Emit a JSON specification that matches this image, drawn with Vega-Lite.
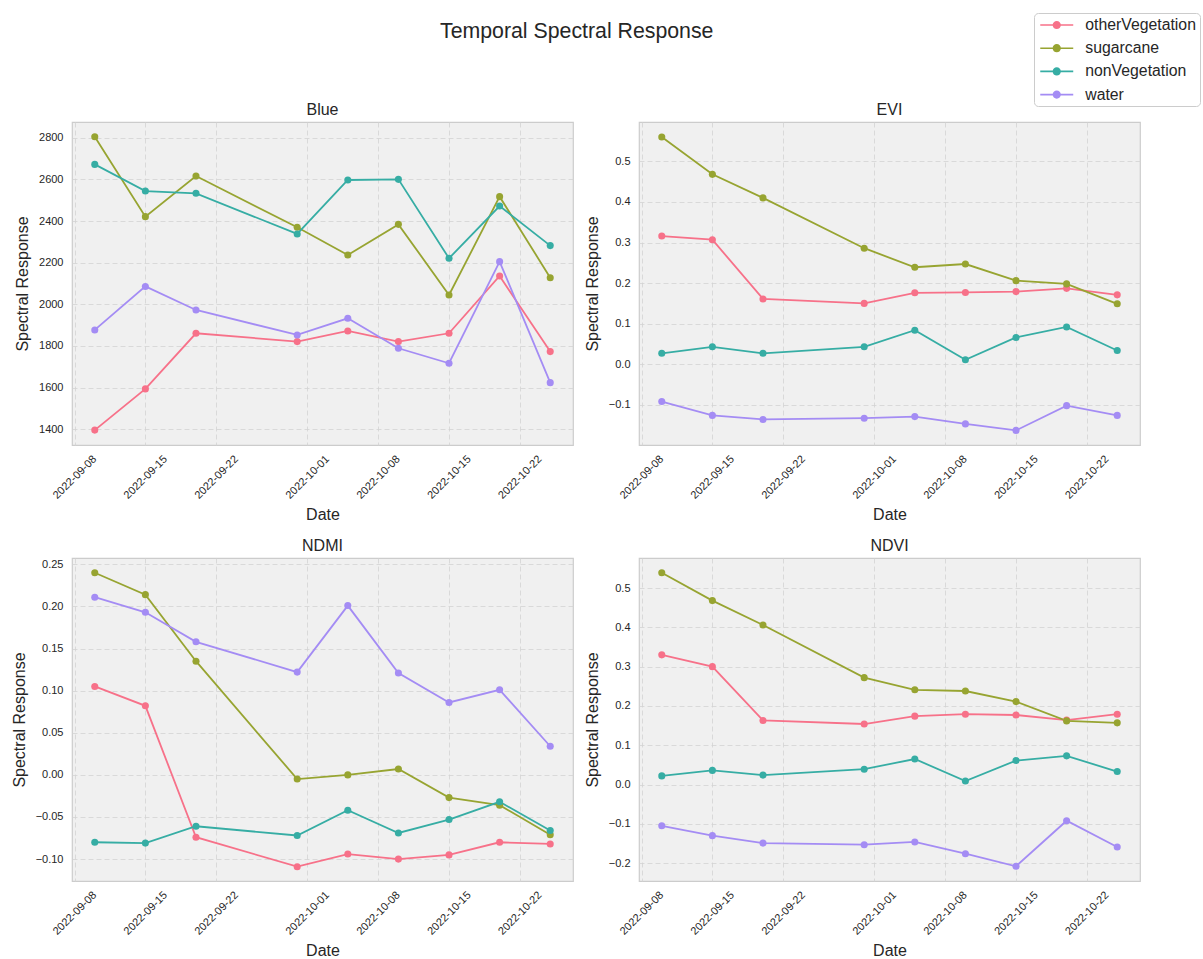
{
  "$schema": "https://vega.github.io/schema/vega-lite/v6.json",
  "background": "white",
  "padding": {"left": 10, "top": 12, "right": 0, "bottom": 0},
  "title": {"text": "Temporal Spectral Response", "anchor": "start", "frame": "group", "dx": 368, "fontSize": 21.3, "font": "Liberation Sans", "fontWeight": "normal", "color": "#262626", "baseline": "alphabetic", "offset": -47},
  "data": {"values": [
    {"band":"Blue","class":"otherVegetation","date":"2022-09-10","value":1396},
    {"band":"Blue","class":"otherVegetation","date":"2022-09-15","value":1594},
    {"band":"Blue","class":"otherVegetation","date":"2022-09-20","value":1861},
    {"band":"Blue","class":"otherVegetation","date":"2022-09-30","value":1821},
    {"band":"Blue","class":"otherVegetation","date":"2022-10-05","value":1872},
    {"band":"Blue","class":"otherVegetation","date":"2022-10-10","value":1821},
    {"band":"Blue","class":"otherVegetation","date":"2022-10-15","value":1861},
    {"band":"Blue","class":"otherVegetation","date":"2022-10-20","value":2136},
    {"band":"Blue","class":"otherVegetation","date":"2022-10-25","value":1773},
    {"band":"Blue","class":"sugarcane","date":"2022-09-10","value":2805},
    {"band":"Blue","class":"sugarcane","date":"2022-09-15","value":2421},
    {"band":"Blue","class":"sugarcane","date":"2022-09-20","value":2616},
    {"band":"Blue","class":"sugarcane","date":"2022-09-30","value":2370},
    {"band":"Blue","class":"sugarcane","date":"2022-10-05","value":2237},
    {"band":"Blue","class":"sugarcane","date":"2022-10-10","value":2384},
    {"band":"Blue","class":"sugarcane","date":"2022-10-15","value":2045},
    {"band":"Blue","class":"sugarcane","date":"2022-10-20","value":2517},
    {"band":"Blue","class":"sugarcane","date":"2022-10-25","value":2128},
    {"band":"Blue","class":"nonVegetation","date":"2022-09-10","value":2672},
    {"band":"Blue","class":"nonVegetation","date":"2022-09-15","value":2544},
    {"band":"Blue","class":"nonVegetation","date":"2022-09-20","value":2533},
    {"band":"Blue","class":"nonVegetation","date":"2022-09-30","value":2338},
    {"band":"Blue","class":"nonVegetation","date":"2022-10-05","value":2597},
    {"band":"Blue","class":"nonVegetation","date":"2022-10-10","value":2600},
    {"band":"Blue","class":"nonVegetation","date":"2022-10-15","value":2221},
    {"band":"Blue","class":"nonVegetation","date":"2022-10-20","value":2472},
    {"band":"Blue","class":"nonVegetation","date":"2022-10-25","value":2282},
    {"band":"Blue","class":"water","date":"2022-09-10","value":1877},
    {"band":"Blue","class":"water","date":"2022-09-15","value":2086},
    {"band":"Blue","class":"water","date":"2022-09-20","value":1973},
    {"band":"Blue","class":"water","date":"2022-09-30","value":1853},
    {"band":"Blue","class":"water","date":"2022-10-05","value":1933},
    {"band":"Blue","class":"water","date":"2022-10-10","value":1789},
    {"band":"Blue","class":"water","date":"2022-10-15","value":1717},
    {"band":"Blue","class":"water","date":"2022-10-20","value":2205},
    {"band":"Blue","class":"water","date":"2022-10-25","value":1624},
    {"band":"EVI","class":"otherVegetation","date":"2022-09-10","value":0.316},
    {"band":"EVI","class":"otherVegetation","date":"2022-09-15","value":0.307},
    {"band":"EVI","class":"otherVegetation","date":"2022-09-20","value":0.161},
    {"band":"EVI","class":"otherVegetation","date":"2022-09-30","value":0.150},
    {"band":"EVI","class":"otherVegetation","date":"2022-10-05","value":0.176},
    {"band":"EVI","class":"otherVegetation","date":"2022-10-10","value":0.177},
    {"band":"EVI","class":"otherVegetation","date":"2022-10-15","value":0.179},
    {"band":"EVI","class":"otherVegetation","date":"2022-10-20","value":0.187},
    {"band":"EVI","class":"otherVegetation","date":"2022-10-25","value":0.171},
    {"band":"EVI","class":"sugarcane","date":"2022-09-10","value":0.560},
    {"band":"EVI","class":"sugarcane","date":"2022-09-15","value":0.468},
    {"band":"EVI","class":"sugarcane","date":"2022-09-20","value":0.410},
    {"band":"EVI","class":"sugarcane","date":"2022-09-30","value":0.286},
    {"band":"EVI","class":"sugarcane","date":"2022-10-05","value":0.239},
    {"band":"EVI","class":"sugarcane","date":"2022-10-10","value":0.247},
    {"band":"EVI","class":"sugarcane","date":"2022-10-15","value":0.206},
    {"band":"EVI","class":"sugarcane","date":"2022-10-20","value":0.198},
    {"band":"EVI","class":"sugarcane","date":"2022-10-25","value":0.149},
    {"band":"EVI","class":"nonVegetation","date":"2022-09-10","value":0.027},
    {"band":"EVI","class":"nonVegetation","date":"2022-09-15","value":0.043},
    {"band":"EVI","class":"nonVegetation","date":"2022-09-20","value":0.027},
    {"band":"EVI","class":"nonVegetation","date":"2022-09-30","value":0.043},
    {"band":"EVI","class":"nonVegetation","date":"2022-10-05","value":0.084},
    {"band":"EVI","class":"nonVegetation","date":"2022-10-10","value":0.011},
    {"band":"EVI","class":"nonVegetation","date":"2022-10-15","value":0.066},
    {"band":"EVI","class":"nonVegetation","date":"2022-10-20","value":0.092},
    {"band":"EVI","class":"nonVegetation","date":"2022-10-25","value":0.034},
    {"band":"EVI","class":"water","date":"2022-09-10","value":-0.092},
    {"band":"EVI","class":"water","date":"2022-09-15","value":-0.126},
    {"band":"EVI","class":"water","date":"2022-09-20","value":-0.136},
    {"band":"EVI","class":"water","date":"2022-09-30","value":-0.133},
    {"band":"EVI","class":"water","date":"2022-10-05","value":-0.129},
    {"band":"EVI","class":"water","date":"2022-10-10","value":-0.147},
    {"band":"EVI","class":"water","date":"2022-10-15","value":-0.163},
    {"band":"EVI","class":"water","date":"2022-10-20","value":-0.102},
    {"band":"EVI","class":"water","date":"2022-10-25","value":-0.126},
    {"band":"NDMI","class":"otherVegetation","date":"2022-09-10","value":0.105},
    {"band":"NDMI","class":"otherVegetation","date":"2022-09-15","value":0.082},
    {"band":"NDMI","class":"otherVegetation","date":"2022-09-20","value":-0.074},
    {"band":"NDMI","class":"otherVegetation","date":"2022-09-30","value":-0.109},
    {"band":"NDMI","class":"otherVegetation","date":"2022-10-05","value":-0.094},
    {"band":"NDMI","class":"otherVegetation","date":"2022-10-10","value":-0.100},
    {"band":"NDMI","class":"otherVegetation","date":"2022-10-15","value":-0.095},
    {"band":"NDMI","class":"otherVegetation","date":"2022-10-20","value":-0.080},
    {"band":"NDMI","class":"otherVegetation","date":"2022-10-25","value":-0.082},
    {"band":"NDMI","class":"sugarcane","date":"2022-09-10","value":0.240},
    {"band":"NDMI","class":"sugarcane","date":"2022-09-15","value":0.214},
    {"band":"NDMI","class":"sugarcane","date":"2022-09-20","value":0.135},
    {"band":"NDMI","class":"sugarcane","date":"2022-09-30","value":-0.005},
    {"band":"NDMI","class":"sugarcane","date":"2022-10-05","value":0.000},
    {"band":"NDMI","class":"sugarcane","date":"2022-10-10","value":0.007},
    {"band":"NDMI","class":"sugarcane","date":"2022-10-15","value":-0.027},
    {"band":"NDMI","class":"sugarcane","date":"2022-10-20","value":-0.036},
    {"band":"NDMI","class":"sugarcane","date":"2022-10-25","value":-0.071},
    {"band":"NDMI","class":"nonVegetation","date":"2022-09-10","value":-0.080},
    {"band":"NDMI","class":"nonVegetation","date":"2022-09-15","value":-0.081},
    {"band":"NDMI","class":"nonVegetation","date":"2022-09-20","value":-0.061},
    {"band":"NDMI","class":"nonVegetation","date":"2022-09-30","value":-0.072},
    {"band":"NDMI","class":"nonVegetation","date":"2022-10-05","value":-0.042},
    {"band":"NDMI","class":"nonVegetation","date":"2022-10-10","value":-0.069},
    {"band":"NDMI","class":"nonVegetation","date":"2022-10-15","value":-0.053},
    {"band":"NDMI","class":"nonVegetation","date":"2022-10-20","value":-0.032},
    {"band":"NDMI","class":"nonVegetation","date":"2022-10-25","value":-0.066},
    {"band":"NDMI","class":"water","date":"2022-09-10","value":0.211},
    {"band":"NDMI","class":"water","date":"2022-09-15","value":0.193},
    {"band":"NDMI","class":"water","date":"2022-09-20","value":0.158},
    {"band":"NDMI","class":"water","date":"2022-09-30","value":0.122},
    {"band":"NDMI","class":"water","date":"2022-10-05","value":0.201},
    {"band":"NDMI","class":"water","date":"2022-10-10","value":0.121},
    {"band":"NDMI","class":"water","date":"2022-10-15","value":0.086},
    {"band":"NDMI","class":"water","date":"2022-10-20","value":0.101},
    {"band":"NDMI","class":"water","date":"2022-10-25","value":0.034},
    {"band":"NDVI","class":"otherVegetation","date":"2022-09-10","value":0.330},
    {"band":"NDVI","class":"otherVegetation","date":"2022-09-15","value":0.300},
    {"band":"NDVI","class":"otherVegetation","date":"2022-09-20","value":0.163},
    {"band":"NDVI","class":"otherVegetation","date":"2022-09-30","value":0.154},
    {"band":"NDVI","class":"otherVegetation","date":"2022-10-05","value":0.174},
    {"band":"NDVI","class":"otherVegetation","date":"2022-10-10","value":0.179},
    {"band":"NDVI","class":"otherVegetation","date":"2022-10-15","value":0.177},
    {"band":"NDVI","class":"otherVegetation","date":"2022-10-20","value":0.164},
    {"band":"NDVI","class":"otherVegetation","date":"2022-10-25","value":0.179},
    {"band":"NDVI","class":"sugarcane","date":"2022-09-10","value":0.539},
    {"band":"NDVI","class":"sugarcane","date":"2022-09-15","value":0.468},
    {"band":"NDVI","class":"sugarcane","date":"2022-09-20","value":0.406},
    {"band":"NDVI","class":"sugarcane","date":"2022-09-30","value":0.272},
    {"band":"NDVI","class":"sugarcane","date":"2022-10-05","value":0.241},
    {"band":"NDVI","class":"sugarcane","date":"2022-10-10","value":0.238},
    {"band":"NDVI","class":"sugarcane","date":"2022-10-15","value":0.211},
    {"band":"NDVI","class":"sugarcane","date":"2022-10-20","value":0.162},
    {"band":"NDVI","class":"sugarcane","date":"2022-10-25","value":0.157},
    {"band":"NDVI","class":"nonVegetation","date":"2022-09-10","value":0.022},
    {"band":"NDVI","class":"nonVegetation","date":"2022-09-15","value":0.036},
    {"band":"NDVI","class":"nonVegetation","date":"2022-09-20","value":0.024},
    {"band":"NDVI","class":"nonVegetation","date":"2022-09-30","value":0.039},
    {"band":"NDVI","class":"nonVegetation","date":"2022-10-05","value":0.065},
    {"band":"NDVI","class":"nonVegetation","date":"2022-10-10","value":0.009},
    {"band":"NDVI","class":"nonVegetation","date":"2022-10-15","value":0.061},
    {"band":"NDVI","class":"nonVegetation","date":"2022-10-20","value":0.073},
    {"band":"NDVI","class":"nonVegetation","date":"2022-10-25","value":0.033},
    {"band":"NDVI","class":"water","date":"2022-09-10","value":-0.105},
    {"band":"NDVI","class":"water","date":"2022-09-15","value":-0.130},
    {"band":"NDVI","class":"water","date":"2022-09-20","value":-0.149},
    {"band":"NDVI","class":"water","date":"2022-09-30","value":-0.153},
    {"band":"NDVI","class":"water","date":"2022-10-05","value":-0.146},
    {"band":"NDVI","class":"water","date":"2022-10-10","value":-0.176},
    {"band":"NDVI","class":"water","date":"2022-10-15","value":-0.208},
    {"band":"NDVI","class":"water","date":"2022-10-20","value":-0.092},
    {"band":"NDVI","class":"water","date":"2022-10-25","value":-0.159}
  ]},
  "columns": 2,
  "spacing": {"column": 66, "row": 113},
  "bounds": "flush",
  "resolve": {"scale": {"x": "independent", "y": "independent", "color": "shared"}},
  "concat": [
    {
      "title": {"text": "Blue", "fontSize": 16, "fontWeight": "normal", "color": "#262626", "anchor": "middle", "offset": 4, "font": "Liberation Sans"},
      "width": 501, "height": 323,
      "transform": [{"filter": "datum.band === 'Blue'"}],
      "mark": {"type": "line", "strokeWidth": 1.8, "point": {"filled": true, "size": 50, "opacity": 1}},
      "encoding": {
        "x": {"field": "date", "type": "temporal", "scale": {"type": "utc", "domain": [{"year": 2022, "month": 9, "date": 7, "hours": 18, "utc": true}, {"year": 2022, "month": 10, "date": 27, "hours": 6, "utc": true}]}, "axis": {"title": "Date", "format": "%Y-%m-%d", "values": [{"year": 2022, "month": 9, "date": 8, "utc": true}, {"year": 2022, "month": 9, "date": 15, "utc": true}, {"year": 2022, "month": 9, "date": 22, "utc": true}, {"year": 2022, "month": 10, "date": 1, "utc": true}, {"year": 2022, "month": 10, "date": 8, "utc": true}, {"year": 2022, "month": 10, "date": 15, "utc": true}, {"year": 2022, "month": 10, "date": 22, "utc": true}]}},
        "y": {"field": "value", "type": "quantitative", "scale": {"domain": [1324.5, 2875.5], "nice": false, "zero": false}, "axis": {"title": "Spectral Response", "values": [1400, 1600, 1800, 2000, 2200, 2400, 2600, 2800], "format": "d"}},
        "color": {"field": "class", "type": "nominal", "scale": {"domain": ["otherVegetation", "sugarcane", "nonVegetation", "water"], "range": ["#f77189", "#97a431", "#36ada4", "#a48cf4"]}, "legend": {"title": null}}
      }
    },
    {
      "title": {"text": "EVI", "fontSize": 16, "fontWeight": "normal", "color": "#262626", "anchor": "middle", "offset": 4, "font": "Liberation Sans"},
      "width": 501, "height": 323,
      "transform": [{"filter": "datum.band === 'EVI'"}],
      "mark": {"type": "line", "strokeWidth": 1.8, "point": {"filled": true, "size": 50, "opacity": 1}},
      "encoding": {
        "x": {"field": "date", "type": "temporal", "scale": {"type": "utc", "domain": [{"year": 2022, "month": 9, "date": 7, "hours": 18, "utc": true}, {"year": 2022, "month": 10, "date": 27, "hours": 6, "utc": true}]}, "axis": {"title": "Date", "format": "%Y-%m-%d", "values": [{"year": 2022, "month": 9, "date": 8, "utc": true}, {"year": 2022, "month": 9, "date": 15, "utc": true}, {"year": 2022, "month": 9, "date": 22, "utc": true}, {"year": 2022, "month": 10, "date": 1, "utc": true}, {"year": 2022, "month": 10, "date": 8, "utc": true}, {"year": 2022, "month": 10, "date": 15, "utc": true}, {"year": 2022, "month": 10, "date": 22, "utc": true}]}},
        "y": {"field": "value", "type": "quantitative", "scale": {"domain": [-0.199, 0.597], "nice": false, "zero": false}, "axis": {"title": "Spectral Response", "values": [-0.1, 0, 0.1, 0.2, 0.3, 0.4, 0.5], "format": ".1f"}},
        "color": {"field": "class", "type": "nominal", "scale": {"domain": ["otherVegetation", "sugarcane", "nonVegetation", "water"], "range": ["#f77189", "#97a431", "#36ada4", "#a48cf4"]}, "legend": {"title": null}}
      }
    },
    {
      "title": {"text": "NDMI", "fontSize": 16, "fontWeight": "normal", "color": "#262626", "anchor": "middle", "offset": 4, "font": "Liberation Sans"},
      "width": 501, "height": 323,
      "transform": [{"filter": "datum.band === 'NDMI'"}],
      "mark": {"type": "line", "strokeWidth": 1.8, "point": {"filled": true, "size": 50, "opacity": 1}},
      "encoding": {
        "x": {"field": "date", "type": "temporal", "scale": {"type": "utc", "domain": [{"year": 2022, "month": 9, "date": 7, "hours": 18, "utc": true}, {"year": 2022, "month": 10, "date": 27, "hours": 6, "utc": true}]}, "axis": {"title": "Date", "format": "%Y-%m-%d", "values": [{"year": 2022, "month": 9, "date": 8, "utc": true}, {"year": 2022, "month": 9, "date": 15, "utc": true}, {"year": 2022, "month": 9, "date": 22, "utc": true}, {"year": 2022, "month": 10, "date": 1, "utc": true}, {"year": 2022, "month": 10, "date": 8, "utc": true}, {"year": 2022, "month": 10, "date": 15, "utc": true}, {"year": 2022, "month": 10, "date": 22, "utc": true}]}},
        "y": {"field": "value", "type": "quantitative", "scale": {"domain": [-0.126, 0.2575], "nice": false, "zero": false}, "axis": {"title": "Spectral Response", "values": [-0.1, -0.05, 0, 0.05, 0.1, 0.15, 0.2, 0.25], "format": ".2f"}},
        "color": {"field": "class", "type": "nominal", "scale": {"domain": ["otherVegetation", "sugarcane", "nonVegetation", "water"], "range": ["#f77189", "#97a431", "#36ada4", "#a48cf4"]}, "legend": {"title": null}}
      }
    },
    {
      "title": {"text": "NDVI", "fontSize": 16, "fontWeight": "normal", "color": "#262626", "anchor": "middle", "offset": 4, "font": "Liberation Sans"},
      "width": 501, "height": 323,
      "transform": [{"filter": "datum.band === 'NDVI'"}],
      "mark": {"type": "line", "strokeWidth": 1.8, "point": {"filled": true, "size": 50, "opacity": 1}},
      "encoding": {
        "x": {"field": "date", "type": "temporal", "scale": {"type": "utc", "domain": [{"year": 2022, "month": 9, "date": 7, "hours": 18, "utc": true}, {"year": 2022, "month": 10, "date": 27, "hours": 6, "utc": true}]}, "axis": {"title": "Date", "format": "%Y-%m-%d", "values": [{"year": 2022, "month": 9, "date": 8, "utc": true}, {"year": 2022, "month": 9, "date": 15, "utc": true}, {"year": 2022, "month": 9, "date": 22, "utc": true}, {"year": 2022, "month": 10, "date": 1, "utc": true}, {"year": 2022, "month": 10, "date": 8, "utc": true}, {"year": 2022, "month": 10, "date": 15, "utc": true}, {"year": 2022, "month": 10, "date": 22, "utc": true}]}},
        "y": {"field": "value", "type": "quantitative", "scale": {"domain": [-0.2454, 0.5764], "nice": false, "zero": false}, "axis": {"title": "Spectral Response", "values": [-0.2, -0.1, 0, 0.1, 0.2, 0.3, 0.4, 0.5], "format": ".1f"}},
        "color": {"field": "class", "type": "nominal", "scale": {"domain": ["otherVegetation", "sugarcane", "nonVegetation", "water"], "range": ["#f77189", "#97a431", "#36ada4", "#a48cf4"]}, "legend": {"title": null}}
      }
    }
  ],
  "config": {
    "font": "Liberation Sans",
    "view": {"fill": "#f0f0f0", "stroke": "#cccccc", "strokeWidth": 1.2},
    "axis": {"domain": false, "ticks": false, "grid": true, "gridColor": "#d3d3d3", "gridDash": [5, 3], "gridWidth": 0.8, "labelFontSize": 11, "labelColor": "#262626", "labelFont": "Liberation Sans", "titleFontSize": 16, "titleColor": "#262626", "titleFontWeight": "normal", "titleFont": "Liberation Sans"},
    "axisX": {"labelAngle": -45, "labelAlign": "center", "labelBaseline": "middle", "labelPadding": 32, "titlePadding": 6, "labelOverlap": false, "labelFlush": false},
    "axisY": {"labelPadding": 9, "titlePadding": 8},
    "legend": {"orient": "none", "legendX": 962, "legendY": -109, "direction": "vertical", "fillColor": "white", "strokeColor": "#cccccc", "cornerRadius": 4, "padding": 3.5, "labelFontSize": 15.8, "labelColor": "#262626", "labelFont": "Liberation Sans", "symbolType": "M-2,-0.1L2,-0.1L2,0.1L-2,0.1Z M-0.5,0 A0.5,0.5 0 1,1 0.5,0 A0.5,0.5 0 1,1 -0.5,0 Z", "symbolSize": 272, "symbolOffset": 10.75, "labelOffset": 20, "rowPadding": 6.2, "symbolStrokeWidth": 0, "symbolOpacity": 1}
  }
}
